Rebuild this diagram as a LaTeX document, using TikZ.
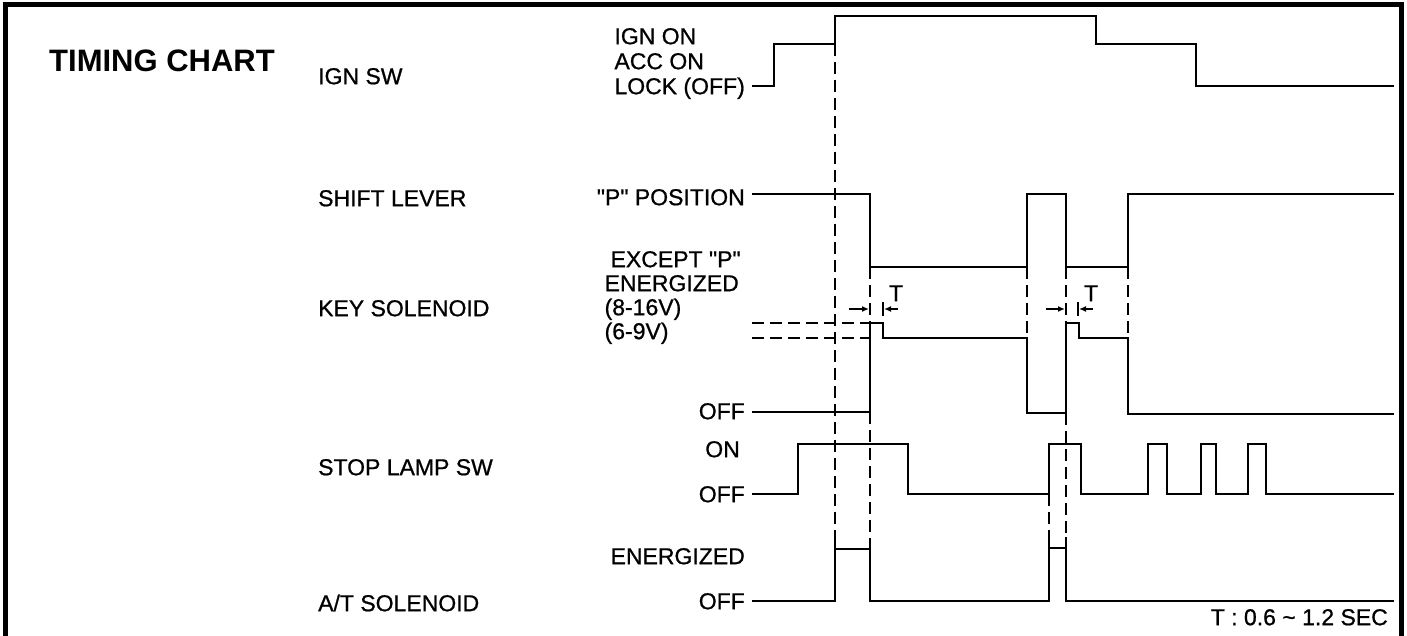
\documentclass[tikz,border=0pt]{standalone}
\usepackage{fontspec}
\setmainfont{Liberation Sans}[Ligatures=TeXOff]
\newfontfamily\heavyfont{Liberation Sans}[Ligatures=TeXOff, FakeBold=0.8]
\usetikzlibrary{arrows.meta}
\newcommand\lblfont{\heavyfont\fontsize{23}{27}\selectfont}
\newcommand\ttlfont{\bfseries\fontsize{31}{37}\selectfont}
\begin{document}
\begin{tikzpicture}[x=1pt,y=-1pt,
  sig/.style={line width=2.8pt, line join=miter},
  dsh/.style={line width=2pt, dash pattern=on 12pt off 6pt},
  lvl/.style={line width=1.6pt},
  lbl/.style={font=\lblfont, inner sep=0pt, text height=16.4pt, text depth=0pt},
  ttl/.style={font=\ttlfont, inner sep=0pt, text height=22.2pt, text depth=0pt},
  dim/.style={line width=1.6pt, -{Latex[length=7pt,width=6pt]}}]
\useasboundingbox (0,0) rectangle (1407,636);
% frame
\draw[line width=5pt] (5,640) -- (5,5) -- (1401,5) -- (1401,640);
% title and row labels
\node[ttl, anchor=west] (title) at (49,60) {TIMING CHART};
\node[lbl, anchor=west] (ignsw) at (318,76) {IGN SW};
\node[lbl, anchor=west] (shift) at (318,198) {SHIFT LEVER};
\node[lbl, anchor=west] (keysol) at (318,308) {KEY SOLENOID};
\node[lbl, anchor=west] (stop) at (318,467) {STOP LAMP SW};
\node[lbl, anchor=west] (atsol) at (318,603) {A/T SOLENOID};
% level labels
\node[lbl, anchor=east] (lock) at (745,86) {LOCK (OFF)};
\node[lbl, anchor=west] (acc) at (lock.west |- 0,61) {ACC ON};
\node[lbl, anchor=west] (ignon) at (lock.west |- 0,36) {IGN ON};
\node[lbl, anchor=east] (ppos) at (745,197) {"P" POSITION};
\node[lbl, anchor=east] (kener) at (739,283) {ENERGIZED};
\node[lbl, anchor=west] (exc) at ([xshift=6pt]kener.west |- 0,259) {EXCEPT "P"};
\node[lbl, anchor=west] (v816) at (kener.west |- 0,307) {(8-16V)};
\node[lbl, anchor=west] (v69) at (kener.west |- 0,331) {(6-9V)};
\node[lbl, anchor=east] (koff) at (745,411) {OFF};
\node[lbl, anchor=east] (son) at (740,449) {ON};
\node[lbl, anchor=east] (soff) at (745,494) {OFF};
\node[lbl, anchor=east] (aener) at (745,556) {ENERGIZED};
\node[lbl, anchor=east] (aoff) at (745,601) {OFF};
\node[lbl, anchor=east] (tnote) at (1388,617) {T : 0.6 \textasciitilde{} 1.2 SEC};
% IGN SW
\draw[sig] (752,86) -- (774,86) -- (774,44) -- (835,44) -- (835,16) -- (1096,16)
  -- (1096,44) -- (1196,44) -- (1196,86) -- (1394,86);
% SHIFT LEVER
\draw[sig] (752,194) -- (870,194) -- (870,267) -- (1027,267) -- (1027,194) -- (1066,194)
  -- (1066,267) -- (1128,267) -- (1128,194) -- (1394,194);
% KEY SOLENOID
\draw[sig] (752,412) -- (870,412) -- (870,323) -- (883,323) -- (883,338) -- (1027,338)
  -- (1027,413) -- (1066,413) -- (1066,323) -- (1079,323) -- (1079,338) -- (1128,338)
  -- (1128,414) -- (1394,414);
% STOP LAMP SW
\draw[sig] (752,494) -- (798,494) -- (798,444) -- (908,444) -- (908,494) -- (1049,494)
  -- (1049,444) -- (1081,444) -- (1081,494) -- (1148,494) -- (1148,444) -- (1167,444)
  -- (1167,494) -- (1201,494) -- (1201,444) -- (1216,444) -- (1216,494) -- (1248,494)
  -- (1248,444) -- (1266,444) -- (1266,494) -- (1394,494);
% A/T SOLENOID
\draw[sig] (752,601) -- (835,601) -- (835,535);
\draw[sig] (870,540) -- (870,601) -- (1049,601) -- (1049,535);
\draw[sig] (1066,537) -- (1066,601) -- (1394,601);
\draw[lvl] (835,549) -- (870,549);
\draw[lvl] (1049,548) -- (1066,548);
% dashed guide lines
\draw[dsh] (835,44) -- (835,535);
\draw[dsh] (870,267) -- (870,323);
\draw[dsh] (870,412) -- (870,540);
\draw[dsh] (1027,267) -- (1027,338);
\draw[dsh] (1066,267) -- (1066,323);
\draw[dsh] (1066,413) -- (1066,537);
\draw[dsh] (1128,267) -- (1128,338);
\draw[dsh] (1049,494) -- (1049,535);
\draw[dsh] (752,323) -- (870,323);
\draw[dsh] (752,338) -- (870,338);
% T markers
\draw[dim] (849,309) -- (869,309);
\draw[lvl] (883,302) -- (883,316);
\draw[dim] (898,309) -- (884,309);
\node[lbl] (t1) at (896,293) {T};
\draw[dim] (1046,309) -- (1065,309);
\draw[lvl] (1078,302) -- (1078,316);
\draw[dim] (1093,309) -- (1079,309);
\node[lbl] (t2) at (1091,293) {T};
\end{tikzpicture}
\end{document}
